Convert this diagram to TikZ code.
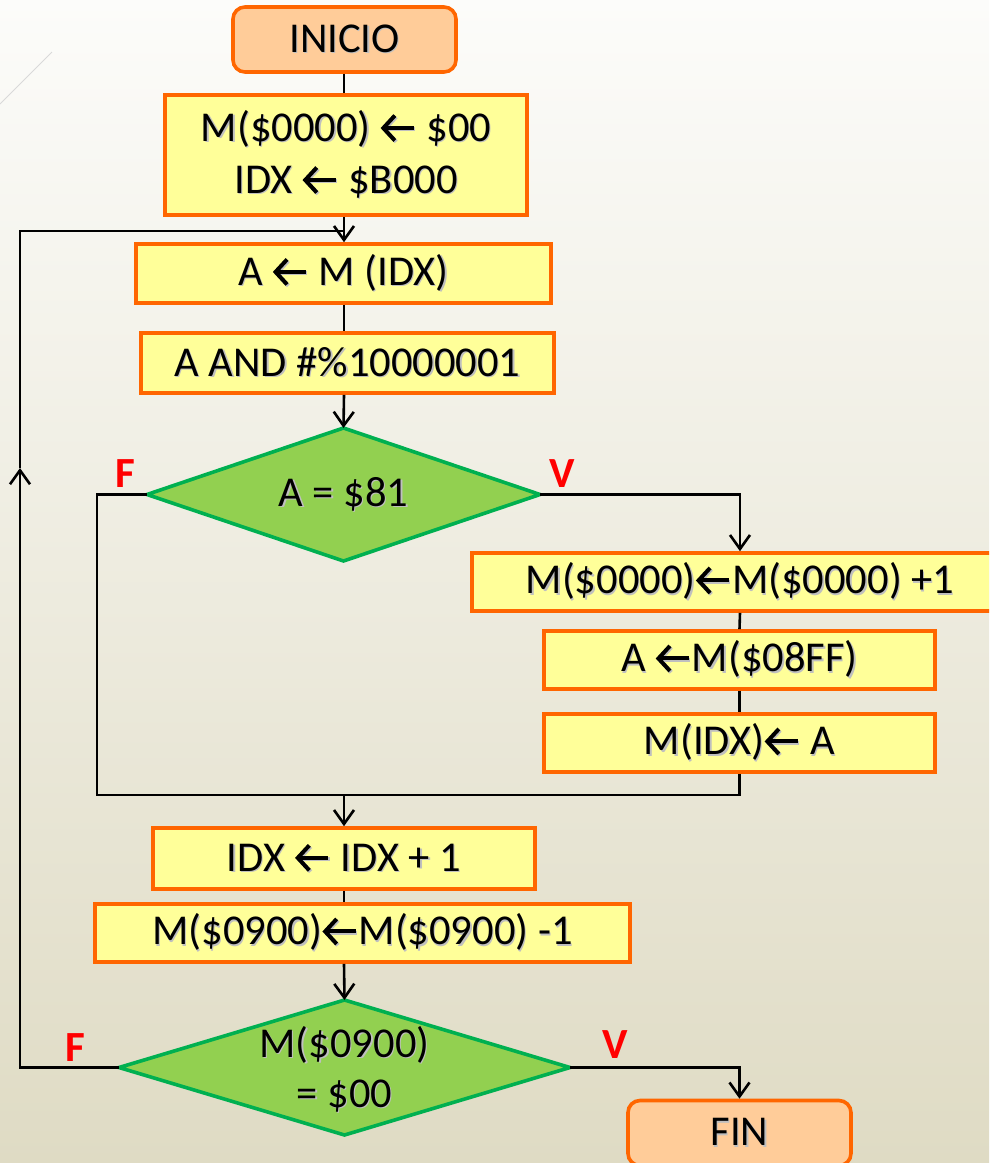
\documentclass[tikz,border=0pt]{standalone}
\usepackage{fontspec}
\setmainfont{Carlito}
\usetikzlibrary{arrows.meta}
\definecolor{orangeB}{RGB}{255,102,0}
\definecolor{yellowF}{RGB}{255,255,153}
\definecolor{peachF}{RGB}{255,204,153}
\definecolor{greenF}{RGB}{146,208,80}
\definecolor{greenB}{RGB}{0,176,80}
\definecolor{bgTop}{RGB}{252,252,250}
\definecolor{bgBot}{RGB}{223,219,196}
\newcommand\sh[1]{\rlap{\hspace{1.3pt}\raisebox{-1.3pt}{\color{black!25}#1}}#1}
\newcommand\la{\hspace{1pt}\tikz[baseline={(0pt,-13.5pt)}]{\draw[line width=4pt,line join=miter,line cap=butt] (13pt,12.5pt) -- (1.5pt,0pt) -- (13pt,-12.5pt); \draw[line width=4pt] (2pt,0pt) -- (32pt,0pt);}\hspace{1pt}}
\begin{document}
\begin{tikzpicture}[x=1pt,y=-1pt,
  txt/.style={font=\fontsize{42.5}{52}\selectfont, align=center, text=black},
  proc/.style={txt, draw=orangeB, fill=yellowF, line width=3.6pt, inner sep=0pt},
  term/.style={proc, fill=peachF, rounded corners=12pt, minimum width=223pt, minimum height=65pt},
  decbox/.style={draw=greenB, fill=greenF, line width=3.6pt, line join=miter},
  conn/.style={draw=black, line width=2.6pt},
  arr/.style={conn, -{Straight Barb[length=14pt,width=20pt,line width=2.6pt]}},
  lbl/.style={font=\fontsize{43}{45}\selectfont\bfseries, text=red}
]
\useasboundingbox (0,0) rectangle (989,1163);
\clip (0,0) rectangle (989,1163);
\shade[top color=bgTop, bottom color=bgBot] (0,0) rectangle (989,1163);
\draw[black!15, line width=1pt] (0,104) -- (52,52);

% diamond 1 corners
\coordinate (d1w) at (147,494.5);
\coordinate (d1e) at (540,494.5);
\coordinate (d1n) at (343.5,428);
\coordinate (d1s) at (343.5,561);
% diamond 2 corners
\coordinate (d2w) at (119,1067.5);
\coordinate (d2e) at (570,1067.5);
\coordinate (d2n) at (344.5,1000);
\coordinate (d2s) at (344.5,1135);
\filldraw[decbox] (d1w) -- (d1n) -- (d1e) -- (d1s) -- cycle;
\filldraw[decbox] (d2w) -- (d2n) -- (d2e) -- (d2s) -- cycle;

\node[term] (ini) at (344.5,39.5) {\sh{INICIO}};
\node[proc, minimum width=362pt, minimum height=120pt] (b1) at (346,155) {\sh{M(\$0000) \la{} \$00}\\\sh{IDX \la{} \$B000}};
\node[proc, minimum width=415pt, minimum height=59pt] (b2) at (343.5,273.5) {\sh{A \la{} M (IDX)}};
\node[proc, minimum width=413pt, minimum height=60pt] (b3) at (347.5,363) {\sh{A AND \#\%10000001}};
\node[txt] (d1t) at (343.5,494.5) {\sh{A = \$81}};
\node[proc, minimum width=536pt, minimum height=58pt] (b4) at (740,582) {\sh{M(\$0000)\la M(\$0000) +1}};
\node[proc, minimum width=391pt, minimum height=58pt] (b5) at (739.5,660) {\sh{A \la M(\$08FF)}};
\node[proc, minimum width=391pt, minimum height=58pt] (b6) at (739.5,743) {\sh{M(IDX)\la{} A}};
\node[proc, minimum width=382pt, minimum height=61pt] (b7) at (344,858.5) {\sh{IDX \la{} IDX + 1}};
\node[proc, minimum width=535pt, minimum height=58pt] (b8) at (362.5,933) {\sh{M(\$0900)\la M(\$0900) -1}};
\node[txt, font=\fontsize{42.5}{50}\selectfont] (d2t) at (344.5,1070) {\sh{M(\$0900)}\\\sh{= \$00}};
\node[term] (fin) at (739.5,1133) {\sh{FIN}};

\coordinate (top) at (344,231);
\coordinate (join) at (344,795);
\coordinate (lmid) at (20,468);

\node[lbl] (f1) at (125,474) {F};
\node[lbl] (v1) at (562,474) {V};
\node[lbl] (f2) at (75,1048) {F};
\node[lbl] (v2) at (615,1045) {V};

\draw[conn] (ini.south -| top) -- (b1.north -| top);
\draw[arr] (b1.south -| top) -- (b2.north -| top);
\draw[conn] (b2.south -| top) -- (b3.north -| top);
\draw[arr] (b3.south -| top) -- (d1n);
\draw[arr] (d1e) -| (b4.north);
\draw[conn] (b4.south) -- (b5.north);
\draw[conn] (b5.south) -- (b6.north);
\draw[conn] (b6.south) |- (join);
\draw[conn] (d1w) -| (97,795) -- (join);
\draw[arr] (join) -- (b7.north -| join);
\draw[conn] (b7.south) -- (b8.north -| b7.south);
\draw[arr] (b8.south -| b7.south) -- (d2n);
\draw[arr] (d2e) -| (fin.north);
\draw[arr] (d2w) -| (lmid);
\draw[conn] (lmid) |- (top);
\end{tikzpicture}
\end{document}
